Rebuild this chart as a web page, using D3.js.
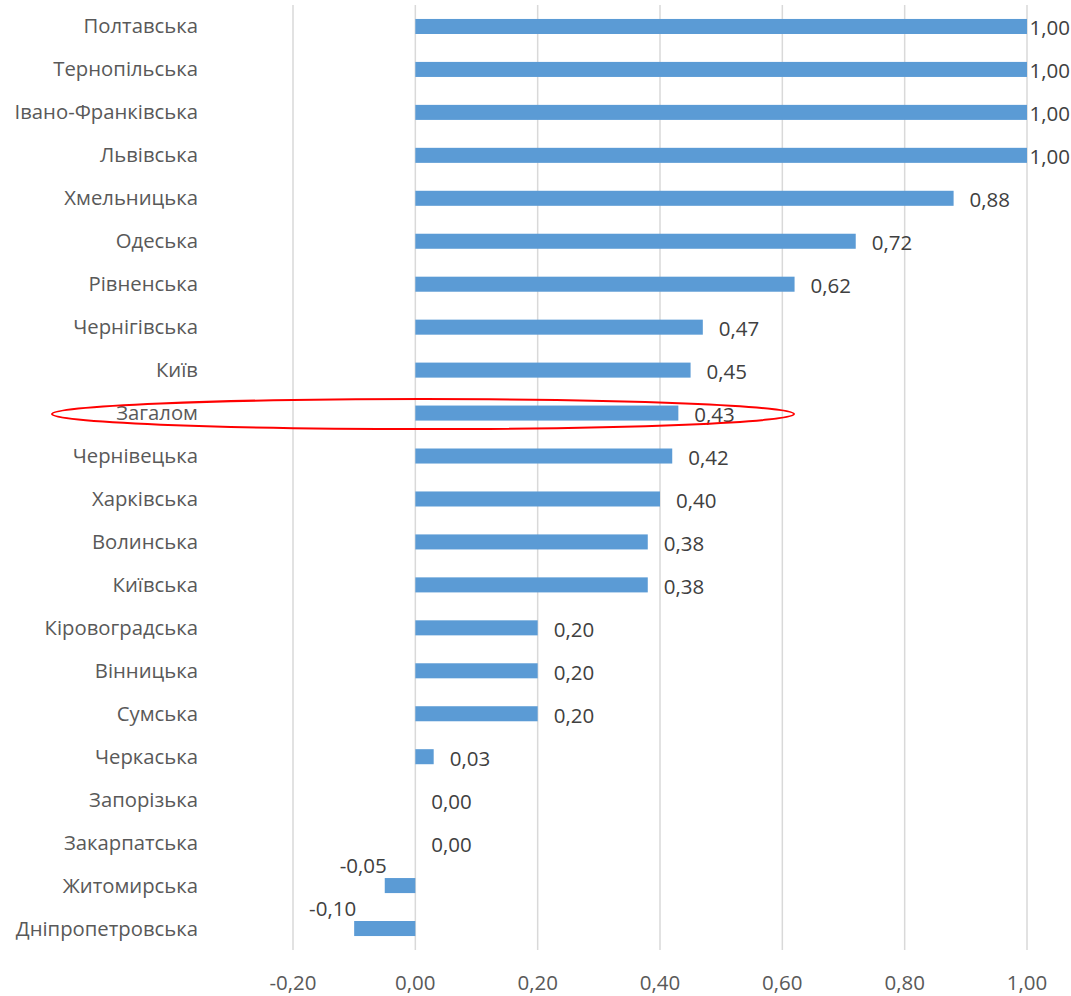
<!DOCTYPE html>
<html>
<head>
<meta charset="utf-8">
<script src="https://cdn.jsdelivr.net/npm/d3@7"></script>
<style>
  body { margin: 0; background: #fff; }
  text { font-family: "Open Sans", "Noto Sans", sans-serif; }
</style>
</head>
<body>
<div id="chart"></div>
<script>
// regions, top to bottom as shown
var regions = ['Полтавська', 'Тернопільська', 'Івано-Франківська', 'Львівська',
    'Хмельницька', 'Одеська', 'Рівненська', 'Чернігівська', 'Київ', 'Загалом',
    'Чернівецька', 'Харківська', 'Волинська', 'Київська', 'Кіровоградська',
    'Вінницька', 'Сумська', 'Черкаська', 'Запорізька', 'Закарпатська',
    'Житомирська', 'Дніпропетровська'];
var scores = [1.00, 1.00, 1.00, 1.00, 0.88, 0.72, 0.62, 0.47, 0.45, 0.43,
    0.42, 0.40, 0.38, 0.38, 0.20, 0.20, 0.20, 0.03, 0.00, 0.00, -0.05, -0.10];
var xTicks = [-0.2, 0, 0.2, 0.4, 0.6, 0.8, 1.0];
var highlighted = 'Загалом';

var W = 1071, H = 996;
var fmt = function(v) { return d3.format('.2f')(v).replace('.', ',').replace('−', '-'); };

var svg = d3.select('#chart').append('svg')
    .attr('width', W)
    .attr('height', H);

var x = d3.scaleLinear().domain([-0.2, 1.0]).range([293, 1027]);
var y = d3.scaleBand().domain(regions).range([5, 950]).paddingInner(0.65).paddingOuter(0.325);

// gridlines
svg.append('g').selectAll('line')
    .data(xTicks)
    .enter().append('line')
    .attr('x1', function(d) { return x(d); })
    .attr('x2', function(d) { return x(d); })
    .attr('y1', 5)
    .attr('y2', 950)
    .attr('stroke', '#d9d9d9')
    .attr('stroke-width', 1.5);

// x axis labels
svg.append('g').selectAll('text')
    .data(xTicks)
    .enter().append('text')
    .attr('x', function(d) { return x(d); })
    .attr('y', 990)
    .attr('text-anchor', 'middle')
    .attr('font-size', 20.5)
    .attr('fill', '#595959')
    .text(fmt);

var data = regions.map(function(r, i) { return {name: r, value: scores[i]}; });

// bars
svg.append('g').selectAll('rect')
    .data(data)
    .enter().append('rect')
    .attr('x', function(d) { return x(Math.min(0, d.value)); })
    .attr('y', function(d) { return y(d.name); })
    .attr('width', function(d) { return Math.abs(x(d.value) - x(0)); })
    .attr('height', y.bandwidth())
    .attr('fill', '#5b9bd5');

// category labels
svg.append('g').selectAll('text')
    .data(regions)
    .enter().append('text')
    .attr('x', 198)
    .attr('y', function(d) { return y(d) + y.bandwidth() / 2 + 7; })
    .attr('text-anchor', 'end')
    .attr('font-size', 20.3)
    .attr('fill', '#595959')
    .text(function(d) { return d; });

// value labels
svg.append('g').selectAll('text')
    .data(data)
    .enter().append('text')
    .attr('font-size', 20.5)
    .attr('fill', '#404040')
    .text(function(d) { return fmt(d.value); })
    .each(function(d) {
        var t = d3.select(this);
        var cy = y(d.name) + y.bandwidth() / 2;
        if (d.value < 0) {
            t.attr('text-anchor', 'end')
                .attr('x', x(d.value) + 2)
                .attr('y', cy - 13);
        } else {
            var w = this.getComputedTextLength();
            var tx = Math.min(x(d.value) + 16, W - w - 1);
            t.attr('x', tx).attr('y', cy + 9);
        }
    });

// highlight ellipse around the overall row
svg.append('ellipse')
    .attr('cx', 423)
    .attr('cy', y(highlighted) + y.bandwidth() / 2 + 1)
    .attr('rx', 371)
    .attr('ry', 15)
    .attr('fill', 'none')
    .attr('stroke', '#ff0000')
    .attr('stroke-width', 2);
</script>
</body>
</html>
